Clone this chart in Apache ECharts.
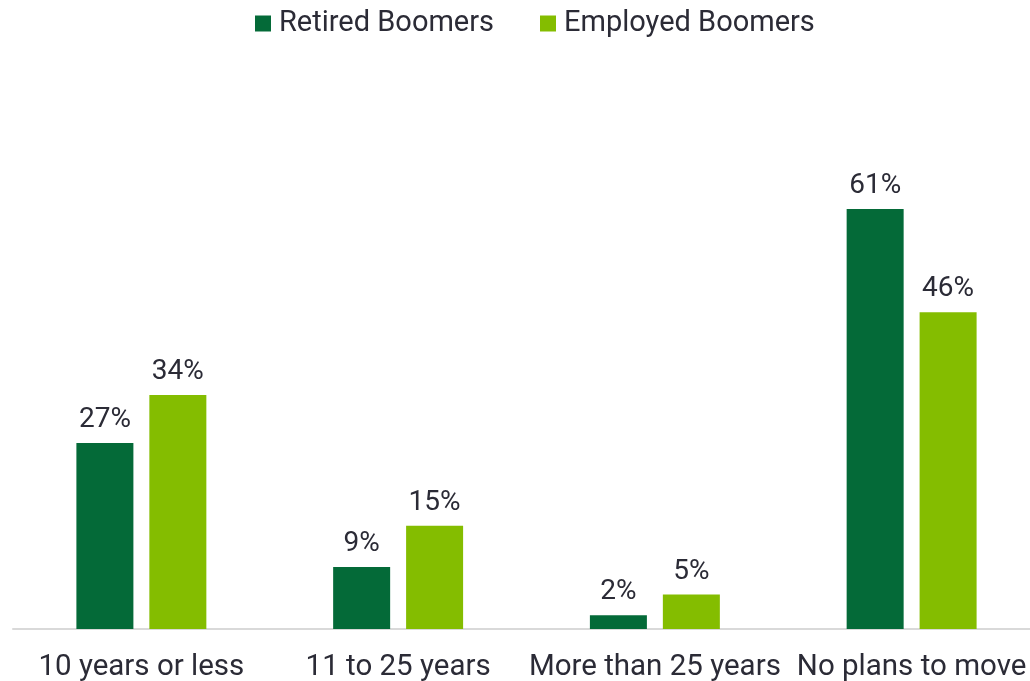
<!DOCTYPE html>
<html>
<head>
<meta charset="utf-8">
<script src="https://cdn.jsdelivr.net/npm/echarts@6/dist/echarts.min.js"></script>
<style>
  html, body { margin: 0; padding: 0; background: #fff; }
  #chart { width: 1030px; height: 681px; }
</style>
</head>
<body>
<div id="chart"></div>
<script>
// categories and values
var categories = ['10 years or less', '11 to 25 years', 'More than 25 years', 'No plans to move'];
var retired = [27, 9, 2, 61];
var employed = [34, 15, 5, 46];

var textColor = '#2b2b36';

var chart = echarts.init(document.getElementById('chart'));

var labelStyle = {
  show: true,
  position: 'top',
  distance: 9,
  formatter: '{c}%',
  color: textColor,
  fontSize: 28,
  fontFamily: 'Roboto'
};

chart.setOption({
  animation: false,
  textStyle: { fontFamily: 'Roboto' },
  legend: {
    top: 4,
    left: 250,
    itemWidth: 16,
    itemHeight: 16,
    itemGap: 46,
    icon: 'rect',
    textStyle: { color: textColor, fontSize: 29, fontFamily: 'Roboto', padding: [0, 0, 0, 3] },
    data: ['Retired Boomers', 'Employed Boomers']
  },
  grid: {
    left: 13,
    width: 1027,
    top: 147,
    bottom: 52,
    containLabel: false,
    outerBoundsMode: 'none'
  },
  xAxis: {
    type: 'category',
    data: categories,
    axisLine: { show: true, lineStyle: { color: '#d9d9d9', width: 2 } },
    axisTick: { show: false },
    axisLabel: { color: textColor, fontSize: 29.5, margin: 24, interval: 0 }
  },
  yAxis: {
    type: 'value',
    min: 0,
    max: 70,
    show: false,
    splitLine: { show: false }
  },
  series: [
    {
      name: 'Retired Boomers',
      type: 'bar',
      data: retired,
      barWidth: 57,
      barGap: '28%',
      itemStyle: { color: '#046a38' },
      label: labelStyle
    },
    {
      name: 'Employed Boomers',
      type: 'bar',
      data: employed,
      barWidth: 57,
      itemStyle: { color: '#84bd00' },
      label: labelStyle
    }
  ]
});
</script>
</body>
</html>
